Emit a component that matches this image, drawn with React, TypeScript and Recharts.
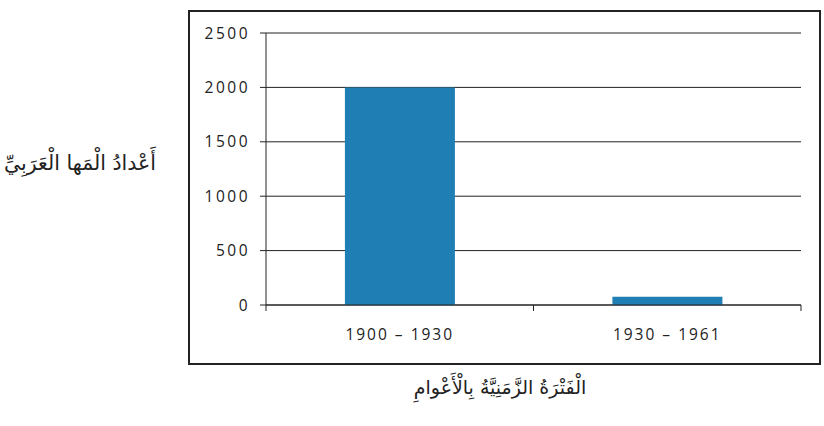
import React from "react";
import { BarChart, Bar, XAxis, YAxis, CartesianGrid } from "recharts";

// ─── Data ─────────────────────────────────────────────────────────────────────

const periods: string[] = ["1900 – 1930", "1930 – 1961"];
const oryxCounts: number[] = [2000, 75];
const yTicks: number[] = [0, 500, 1000, 1500, 2000, 2500];

const yLabel = "أَعْدادُ الْمَها الْعَرَبِيِّ";
const xLabel = "الْفَتْرَةُ الزَّمَنِيَّةُ بِالْأَعْوامِ";

const data = periods.map((period, i) => ({ period, count: oryxCounts[i] }));

// ─── Layout ───────────────────────────────────────────────────────────────────

const W = 824;
const H = 426;
const X_AXIS_H = 30;
const MARGIN = { top: 33, right: 23, bottom: 121 - X_AXIS_H, left: 206 };
const Y_AXIS_W = 60;
const PLOT_W = W - MARGIN.left - Y_AXIS_W - MARGIN.right;
const BAND = PLOT_W / periods.length;
const INK = "#222";
const NUM_FONT = "'Open Sans', sans-serif";

// x tick: label centred in band, small marks at band boundaries
const XTick = (props: any) => {
  const { x, y, payload } = props;
  const axisY = y - 6 - 4;
  return (
    <g>
      <line x1={x - BAND / 2} x2={x - BAND / 2} y1={axisY} y2={axisY + 6} stroke={INK} strokeWidth={1} />
      <line x1={x + BAND / 2} x2={x + BAND / 2} y1={axisY} y2={axisY + 6} stroke={INK} strokeWidth={1} />
      <text
        x={x}
        y={axisY + 35}
        textAnchor="middle"
        fontFamily={NUM_FONT}
        fontSize={15.5}
        letterSpacing={2}
        fill={INK}
      >
        {payload.value}
      </text>
    </g>
  );
};

export default function App() {
  return (
    <div style={{ position: "absolute", left: 0, top: 0, width: W, height: H, background: "#fff" }}>
      <div
        style={{
          position: "absolute",
          left: 188,
          top: 10,
          width: 633,
          height: 355,
          boxSizing: "border-box",
          border: `2px solid ${INK}`,
        }}
      />
      <div style={{ position: "absolute", left: 0, top: 0 }}>
        <BarChart width={W} height={H} data={data} margin={MARGIN} barCategoryGap="29.5%">
          <CartesianGrid vertical={false} stroke={INK} strokeWidth={1} />
          <XAxis
            dataKey="period"
            height={X_AXIS_H}
            axisLine={{ stroke: INK }}
            tickLine={false}
            tickSize={6}
            tickMargin={4}
            tick={<XTick />}
            interval={0}
          />
          <YAxis
            domain={[0, 2500]}
            ticks={yTicks}
            width={Y_AXIS_W}
            axisLine={{ stroke: INK }}
            tickLine={{ stroke: INK }}
            tickSize={6}
            tickMargin={10}
            tick={{ fontFamily: NUM_FONT, fontSize: 15.5, fill: INK, letterSpacing: 2.5 }}
          />
          <Bar dataKey="count" fill="#1f7fb5" isAnimationActive={false} />
        </BarChart>
      </div>
      <div
        dir="rtl"
        style={{
          position: "absolute",
          left: 0,
          top: 151,
          width: 160,
          textAlign: "center",
          fontFamily: "'DejaVu Sans', sans-serif",
          fontSize: 20.5,
          color: INK,
          whiteSpace: "nowrap",
        }}
      >
        {yLabel}
      </div>
      <div
        dir="rtl"
        style={{
          position: "absolute",
          left: 380,
          top: 376,
          width: 240,
          textAlign: "center",
          fontFamily: "'DejaVu Sans', sans-serif",
          fontSize: 19,
          color: INK,
          whiteSpace: "nowrap",
        }}
      >
        {xLabel}
      </div>
    </div>
  );
}
